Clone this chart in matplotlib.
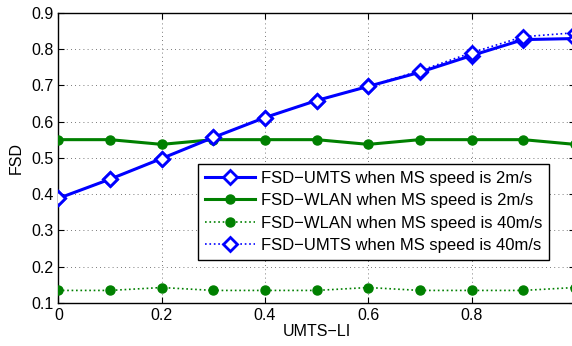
import numpy as np
import matplotlib
matplotlib.use('Agg')
import matplotlib.pyplot as plt

plt.rcParams['font.family'] = ['Liberation Sans', 'DejaVu Sans']

# UMTS-LI sweep
umts_li = [0.0, 0.1, 0.2, 0.3, 0.4, 0.5, 0.6, 0.7, 0.8, 0.9, 1.0]

# FSD values
fsd_umts_2 = [0.388, 0.441, 0.498, 0.556, 0.611, 0.658, 0.697, 0.736, 0.782, 0.826, 0.829]
fsd_wlan_2 = [0.550, 0.550, 0.537, 0.550, 0.550, 0.550, 0.537, 0.550, 0.550, 0.550, 0.537]
fsd_wlan_40 = [0.134, 0.134, 0.142, 0.134, 0.134, 0.134, 0.142, 0.134, 0.134, 0.134, 0.142]
fsd_umts_40 = [0.388, 0.441, 0.498, 0.556, 0.611, 0.658, 0.697, 0.740, 0.790, 0.834, 0.845]

labels = ['FSD\u2212UMTS when MS speed is 2m/s',
          'FSD\u2212WLAN when MS speed is 2m/s',
          'FSD\u2212WLAN when MS speed is 40m/s',
          'FSD\u2212UMTS when MS speed is 40m/s']

blue = (0, 0, 1)
green = (0, 0.5, 0)

fig = plt.figure(figsize=(5.72, 3.46), dpi=100)
ax = fig.add_axes([0.102, 0.125, 0.903, 0.838])

ax.plot(umts_li, fsd_umts_2, '-', color=blue, lw=2.2, marker='D', ms=7,
        mfc='white', mec=blue, mew=2.0, label=labels[0], zorder=4)
ax.plot(umts_li, fsd_wlan_2, '-', color=green, lw=2.2, marker='o', ms=6.5,
        mfc=green, mec=green, label=labels[1], zorder=3)
ax.plot(umts_li, fsd_wlan_40, ':', color=green, lw=1.2, marker='o', ms=6.5,
        mfc=green, mec=green, label=labels[2], zorder=3)
ax.plot(umts_li, fsd_umts_40, ':', color=blue, lw=1.2, marker='D', ms=7,
        mfc='white', mec=blue, mew=2.0, label=labels[3], zorder=5)

ax.set_xlim(0, 1)
ax.set_ylim(0.1, 0.9)
ax.set_xticks([0, 0.2, 0.4, 0.6, 0.8, 1])
ax.set_xticklabels(['0', '0.2', '0.4', '0.6', '0.8', '1'])
ax.set_yticks(np.arange(0.1, 0.91, 0.1))
ax.set_yticklabels(['%.1f' % v for v in np.arange(0.1, 0.91, 0.1)])
ax.tick_params(direction='in', labelsize=11.5, top=True, right=True, length=4)
ax.grid(True, linestyle=(0, (1, 4)), color='black', lw=0.6, alpha=0.7)
for s in ax.spines.values():
    s.set_linewidth(1.0)

ax.set_xlabel('UMTS\u2212LI', fontsize=11.5, labelpad=1)
ax.set_ylabel('FSD', fontsize=11.5, labelpad=5)

leg = ax.legend(loc='upper left', bbox_to_anchor=(198 / 572, 1 - 164 / 346),
                bbox_transform=fig.transFigure, borderaxespad=0, fontsize=12,
                fancybox=False, framealpha=1, edgecolor='black',
                handlelength=3.0, handletextpad=0.4, labelspacing=0.45,
                borderpad=0.4)
leg.get_frame().set_linewidth(1.0)

fig.savefig('out.png', dpi=100)
